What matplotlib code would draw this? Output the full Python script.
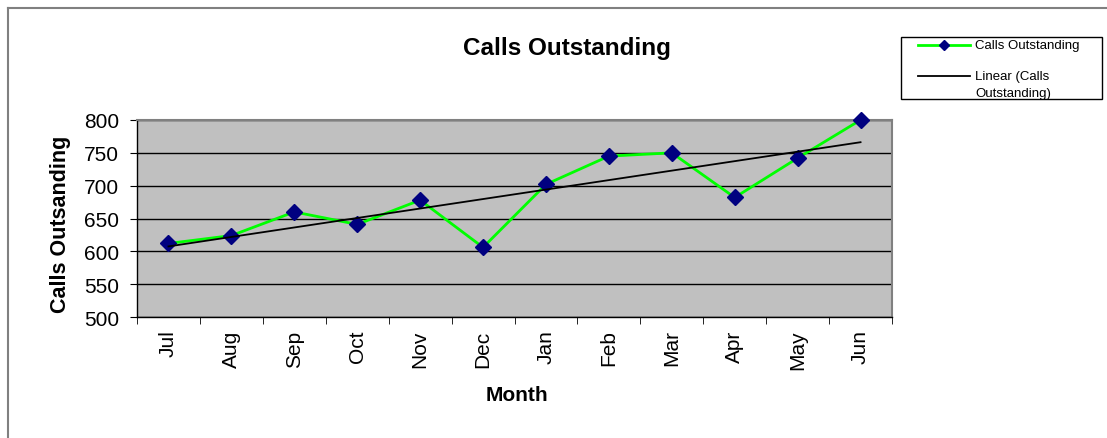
import matplotlib
matplotlib.use('Agg')
import matplotlib.pyplot as plt
from matplotlib.patches import Rectangle
from matplotlib.lines import Line2D
import numpy as np

plt.rcParams['font.family'] = ['Liberation Sans', 'DejaVu Sans']

months = ['Jul', 'Aug', 'Sep', 'Oct', 'Nov', 'Dec', 'Jan', 'Feb', 'Mar', 'Apr', 'May', 'Jun']
calls = [612, 624, 660, 641, 678, 606, 702, 745, 750, 682, 742, 800]
yticks = [500, 550, 600, 650, 700, 750, 800]

W, H = 1107, 439

def fx(px):
    return px / W

def fy(py):
    return 1 - py / H

x = np.arange(len(months))
slope, icpt = np.polyfit(x, calls, 1)
trend = slope * x + icpt

fig = plt.figure(figsize=(W / 100, H / 100), dpi=100)
ax = fig.add_axes([fx(137), fy(318), (892 - 137) / W, (318 - 121) / H])
ax.set_facecolor('#C0C0C0')

ax.plot(x, calls, color='#00FF00', lw=2, marker='D', ms=8,
        mfc='#000080', mec='#000080', zorder=3, clip_on=False)
ax.plot(x, trend, color='black', lw=1.3, zorder=4)

ax.set_xlim(-0.5, len(months) - 0.5)
ax.set_ylim(500, 800)
ax.set_yticks(yticks)
for v in yticks:
    ax.axhline(v, color='black', lw=1, zorder=1)

ax.set_xticks(x)
ax.set_xticklabels(months, rotation=90, fontsize=15)
ax.set_xticks(np.arange(len(months) + 1) - 0.5, minor=True)
ax.tick_params(axis='x', which='major', length=0, pad=9)
ax.tick_params(axis='x', which='minor', length=5, direction='out')
ax.tick_params(axis='y', labelsize=15, length=5, direction='out', pad=8)
for s in ax.spines.values():
    s.set_color('#808080')
    s.set_linewidth(1.5)
for s in ['bottom', 'left']:
    ax.spines[s].set_color('black')
    ax.spines[s].set_linewidth(1)

fig.text(fx(517), fy(401), 'Month', fontsize=15, fontweight='bold', ha='center', va='baseline')
fig.text(fx(61), fy(224), 'Calls Outsanding', fontsize=15.5, fontweight='bold',
         rotation=90, ha='center', va='center')
fig.text(fx(567), fy(55), 'Calls Outstanding', fontsize=17.5, fontweight='bold',
         ha='center', va='baseline')

# legend box
fig.add_artist(Rectangle((fx(901), fy(100)), (1102 - 901) / W, (100 - 38) / H,
                         transform=fig.transFigure, fill=False, edgecolor='black', lw=1))
fig.add_artist(Line2D([fx(918), fx(970)], [fy(46), fy(46)], transform=fig.transFigure,
                      color='#00FF00', lw=2))
fig.add_artist(Line2D([fx(944)], [fy(46)], transform=fig.transFigure, marker='D', ms=5,
                      mfc='#000080', mec='#000080', lw=0))
fig.add_artist(Line2D([fx(918), fx(970)], [fy(77), fy(77)], transform=fig.transFigure,
                      color='black', lw=1.3))
fig.text(fx(975), fy(46), 'Calls Outstanding', fontsize=9.5, va='center')
fig.text(fx(975), fy(77), 'Linear (Calls', fontsize=9.5, va='center')
fig.text(fx(975), fy(94), 'Outstanding)', fontsize=9.5, va='center')

# chart area border (only top/left visible)
fig.add_artist(Line2D([fx(8), fx(8)], [0, fy(9)], transform=fig.transFigure,
                      color='#808080', lw=1.5))
fig.add_artist(Line2D([fx(8), 1], [fy(9), fy(9)], transform=fig.transFigure,
                      color='#808080', lw=1.5))

fig.savefig('out.png', dpi=100)
